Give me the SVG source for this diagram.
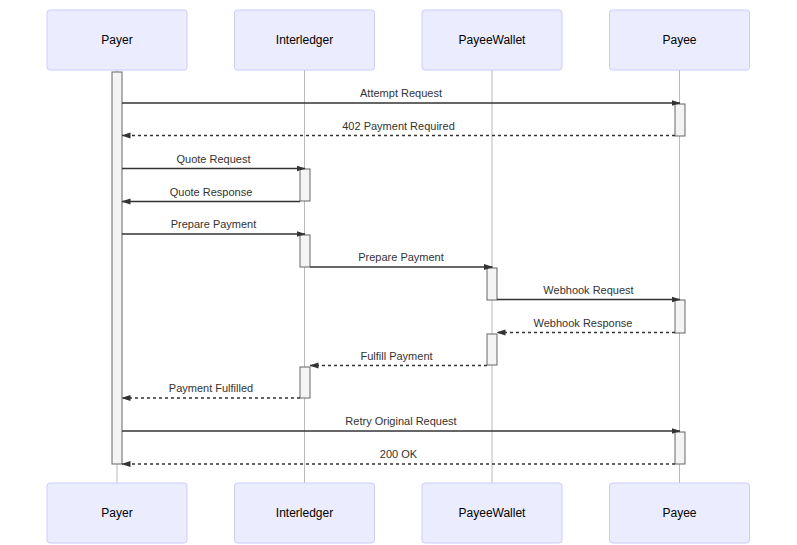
<svg xmlns="http://www.w3.org/2000/svg" width="797" height="545" viewBox="0 0 797 545">
<style>
.actor{fill:#ececff;stroke:#ccccff;stroke-width:1}
.atext{font-family:"Liberation Sans",Arial,sans-serif;font-size:12px;fill:#000;text-anchor:middle;dominant-baseline:central}
.life{stroke:#aaa;stroke-width:0.8}
.act{fill:#f4f4f4;stroke:#666;stroke-width:1}
.msg{stroke:#333;stroke-width:1.5;fill:none}
.dash{stroke-dasharray:3,3}
.mtext{font-family:"Liberation Sans",Arial,sans-serif;font-size:11px;fill:#333;text-anchor:middle}
</style>
<defs>
<marker id="ah" viewBox="0 0 9 7" refX="8.5" refY="3.5" markerWidth="9" markerHeight="7" markerUnits="userSpaceOnUse" orient="auto">
<path d="M0,0.5 L9,3.5 L0,6.5 z" fill="#333"/>
</marker>
</defs>
<g id="lifelines">
<line class="life" x1="117" y1="70" x2="117" y2="483"/>
<line class="life" x1="304.5" y1="70" x2="304.5" y2="483"/>
<line class="life" x1="492" y1="70" x2="492" y2="483"/>
<line class="life" x1="679.5" y1="70" x2="679.5" y2="483"/>
</g>
<g id="actor-Payer">
<rect class="actor" x="47" y="10" width="140" height="60" rx="3"/>
<text class="atext" x="117" y="40">Payer</text>
<rect class="actor" x="47" y="483" width="140" height="60" rx="3"/>
<text class="atext" x="117" y="513">Payer</text>
</g>
<g id="actor-Interledger">
<rect class="actor" x="234.5" y="10" width="140" height="60" rx="3"/>
<text class="atext" x="304.5" y="40">Interledger</text>
<rect class="actor" x="234.5" y="483" width="140" height="60" rx="3"/>
<text class="atext" x="304.5" y="513">Interledger</text>
</g>
<g id="actor-PayeeWallet">
<rect class="actor" x="422" y="10" width="140" height="60" rx="3"/>
<text class="atext" x="492" y="40">PayeeWallet</text>
<rect class="actor" x="422" y="483" width="140" height="60" rx="3"/>
<text class="atext" x="492" y="513">PayeeWallet</text>
</g>
<g id="actor-Payee">
<rect class="actor" x="609.5" y="10" width="140" height="60" rx="3"/>
<text class="atext" x="679.5" y="40">Payee</text>
<rect class="actor" x="609.5" y="483" width="140" height="60" rx="3"/>
<text class="atext" x="679.5" y="513">Payee</text>
</g>
<g id="activations">
<rect class="act" x="112" y="72" width="10" height="392"/>
<rect class="act" x="675" y="104" width="10" height="32"/>
<rect class="act" x="300" y="169" width="10" height="32"/>
<rect class="act" x="300" y="235" width="10" height="32"/>
<rect class="act" x="487" y="268" width="10" height="32"/>
<rect class="act" x="675" y="300" width="10" height="33"/>
<rect class="act" x="487" y="334" width="10" height="31"/>
<rect class="act" x="300" y="367" width="10" height="31"/>
<rect class="act" x="675" y="432" width="10" height="32"/>
</g>
<g id="connectors">
<line class="msg" x1="122" y1="103" x2="680" y2="103" marker-end="url(#ah)"/>
<text class="mtext" x="401" y="97">Attempt Request</text>
<line class="msg dash" x1="675" y1="135.5" x2="122" y2="135.5" marker-end="url(#ah)"/>
<text class="mtext" x="398.5" y="129.5">402 Payment Required</text>
<line class="msg" x1="122" y1="168.5" x2="305" y2="168.5" marker-end="url(#ah)"/>
<text class="mtext" x="213.5" y="162.5">Quote Request</text>
<line class="msg" x1="300" y1="201.5" x2="122" y2="201.5" marker-end="url(#ah)"/>
<text class="mtext" x="211" y="195.5">Quote Response</text>
<line class="msg" x1="122" y1="234" x2="305" y2="234" marker-end="url(#ah)"/>
<text class="mtext" x="213.5" y="228">Prepare Payment</text>
<line class="msg" x1="310" y1="267" x2="492.5" y2="267" marker-end="url(#ah)"/>
<text class="mtext" x="401" y="261">Prepare Payment</text>
<line class="msg" x1="497" y1="299.5" x2="680" y2="299.5" marker-end="url(#ah)"/>
<text class="mtext" x="588.5" y="293.5">Webhook Request</text>
<line class="msg dash" x1="675" y1="332.5" x2="497" y2="332.5" marker-end="url(#ah)"/>
<text class="mtext" x="583" y="326.5">Webhook Response</text>
<line class="msg dash" x1="487" y1="365.5" x2="310" y2="365.5" marker-end="url(#ah)"/>
<text class="mtext" x="396.5" y="359.5">Fulfill Payment</text>
<line class="msg dash" x1="300" y1="398" x2="122" y2="398" marker-end="url(#ah)"/>
<text class="mtext" x="211" y="392">Payment Fulfilled</text>
<line class="msg" x1="122" y1="431" x2="680" y2="431" marker-end="url(#ah)"/>
<text class="mtext" x="401" y="425">Retry Original Request</text>
<line class="msg dash" x1="675" y1="464" x2="122" y2="464" marker-end="url(#ah)"/>
<text class="mtext" x="398.5" y="458">200 OK</text>
</g>
</svg>
